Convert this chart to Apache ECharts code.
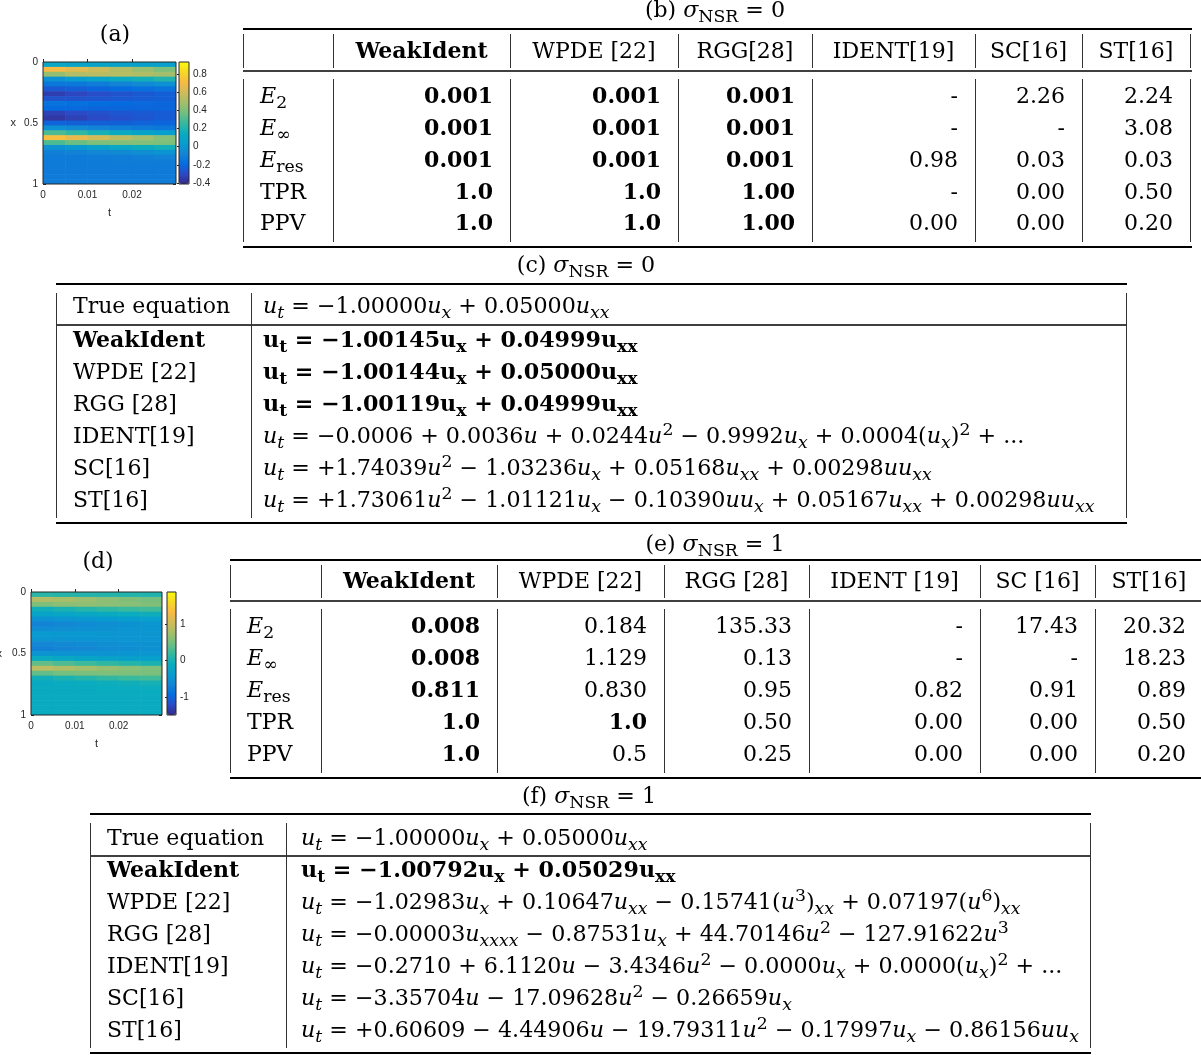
<!DOCTYPE html>
<html><head><meta charset="utf-8">
<script src="https://cdn.jsdelivr.net/npm/echarts@6/dist/echarts.min.js"></script>
<style>html,body{margin:0;padding:0;background:#fff}#c{width:1201px;height:1055px}</style>
</head><body><div id="c"></div>
<script>
// ================= DATA =================
// heatmap columns (t) and rows (x)
const tCols = ['0.0025','0.0075','0.0125','0.0175','0.0225','0.0275'];
const xRows = ['0.02','0.06','0.10','0.14','0.18','0.22','0.26','0.30','0.34','0.38','0.42','0.46','0.50',
               '0.54','0.58','0.62','0.66','0.70','0.74','0.78','0.82','0.86','0.90','0.94','0.98'];
const tTicks = [0, 0.01, 0.02];
// (a) noise-free field u(x,t), one row per x value
const fieldA = [
  [0.10, 0.09, 0.08, 0.07, 0.06, 0.05],
  [0.70, 0.64, 0.58, 0.52, 0.46, 0.40],
  [0.45, 0.52, 0.54, 0.53, 0.51, 0.48],
  [-0.02, 0.03, 0.08, 0.13, 0.17, 0.21],
  [-0.14, -0.13, -0.11, -0.08, -0.05, -0.02],
  [-0.25, -0.23, -0.21, -0.19, -0.17, -0.15],
  [-0.34, -0.31, -0.29, -0.27, -0.25, -0.23],
  [-0.27, -0.27, -0.26, -0.25, -0.24, -0.23],
  [-0.16, -0.17, -0.18, -0.19, -0.20, -0.21],
  [-0.19, -0.20, -0.21, -0.21, -0.21, -0.21],
  [-0.33, -0.30, -0.28, -0.26, -0.25, -0.24],
  [-0.36, -0.33, -0.30, -0.28, -0.26, -0.24],
  [-0.22, -0.23, -0.23, -0.23, -0.22, -0.21],
  [-0.02, -0.05, -0.08, -0.10, -0.12, -0.13],
  [0.30, 0.24, 0.18, 0.13, 0.09, 0.05],
  [0.72, 0.66, 0.60, 0.54, 0.48, 0.42],
  [0.30, 0.36, 0.40, 0.41, 0.41, 0.40],
  [-0.02, 0.02, 0.06, 0.10, 0.14, 0.17],
  [-0.10, -0.09, -0.07, -0.05, -0.03, -0.01],
  [-0.12, -0.12, -0.11, -0.11, -0.10, -0.09],
  [-0.12, -0.12, -0.12, -0.11, -0.11, -0.11],
  [-0.12, -0.12, -0.12, -0.12, -0.12, -0.12],
  [-0.12, -0.12, -0.12, -0.12, -0.12, -0.12],
  [-0.12, -0.12, -0.12, -0.12, -0.12, -0.12],
  [-0.11, -0.11, -0.11, -0.11, -0.11, -0.11]
];
// (d) noisy field (sigma_NSR = 1), smoothed reading
const fieldD = [
  [0.10, 0.08, 0.07, 0.06, 0.05, 0.04],
  [0.85, 0.78, 0.70, 0.62, 0.56, 0.50],
  [0.55, 0.62, 0.64, 0.62, 0.60, 0.56],
  [-0.05, 0.02, 0.08, 0.14, 0.20, 0.24],
  [-0.25, -0.22, -0.18, -0.14, -0.10, -0.06],
  [-0.50, -0.46, -0.42, -0.38, -0.35, -0.32],
  [-0.68, -0.63, -0.58, -0.54, -0.50, -0.46],
  [-0.56, -0.55, -0.53, -0.51, -0.49, -0.47],
  [-0.40, -0.42, -0.43, -0.44, -0.45, -0.45],
  [-0.45, -0.46, -0.47, -0.47, -0.47, -0.46],
  [-0.64, -0.61, -0.58, -0.55, -0.52, -0.50],
  [-0.70, -0.66, -0.62, -0.58, -0.55, -0.52],
  [-0.48, -0.49, -0.49, -0.48, -0.47, -0.45],
  [-0.12, -0.18, -0.24, -0.28, -0.31, -0.33],
  [0.40, 0.30, 0.22, 0.14, 0.08, 0.02],
  [0.90, 0.82, 0.74, 0.67, 0.60, 0.54],
  [0.40, 0.48, 0.52, 0.54, 0.54, 0.52],
  [-0.05, 0.02, 0.08, 0.14, 0.20, 0.24],
  [-0.15, -0.13, -0.10, -0.07, -0.04, -0.01],
  [-0.12, -0.12, -0.11, -0.10, -0.09, -0.08],
  [-0.12, -0.12, -0.12, -0.11, -0.11, -0.10],
  [-0.12, -0.12, -0.12, -0.12, -0.12, -0.12],
  [-0.12, -0.12, -0.12, -0.12, -0.12, -0.12],
  [-0.12, -0.12, -0.12, -0.12, -0.12, -0.12],
  [-0.10, -0.10, -0.10, -0.10, -0.10, -0.10]
];
const rangeA = [-0.41, 0.93];
const rangeD = [-1.5, 1.88];
const cbTicksA = [-0.4, -0.2, 0, 0.2, 0.4, 0.6, 0.8];
const cbTicksD = [-1, 0, 1];

// tables (b) and (e)
const metricNames = ['$E_2$', '$E_∞$', '$E_[res]$', 'TPR', 'PPV'];
const methodsB = ['WeakIdent', 'WPDE [22]', 'RGG[28]', 'IDENT[19]', 'SC[16]', 'ST[16]'];
const valuesB = [
  ['0.001', '0.001', '0.001', '-', '2.26', '2.24'],
  ['0.001', '0.001', '0.001', '-', '-', '3.08'],
  ['0.001', '0.001', '0.001', '0.98', '0.03', '0.03'],
  ['1.0', '1.0', '1.00', '-', '0.00', '0.50'],
  ['1.0', '1.0', '1.00', '0.00', '0.00', '0.20']
];
const boldB = [
  [1, 1, 1, 0, 0, 0], [1, 1, 1, 0, 0, 0], [1, 1, 1, 0, 0, 0], [1, 1, 1, 0, 0, 0], [1, 1, 1, 0, 0, 0]
];
const methodsE = ['WeakIdent', 'WPDE [22]', 'RGG [28]', 'IDENT [19]', 'SC [16]', 'ST[16]'];
const valuesE = [
  ['0.008', '0.184', '135.33', '-', '17.43', '20.32'],
  ['0.008', '1.129', '0.13', '-', '-', '18.23'],
  ['0.811', '0.830', '0.95', '0.82', '0.91', '0.89'],
  ['1.0', '1.0', '0.50', '0.00', '0.00', '0.50'],
  ['1.0', '0.5', '0.25', '0.00', '0.00', '0.20']
];
const boldE = [
  [1, 0, 0, 0, 0, 0], [1, 0, 0, 0, 0, 0], [1, 0, 0, 0, 0, 0], [1, 1, 0, 0, 0, 0], [1, 0, 0, 0, 0, 0]
];
// tables (c) and (f)
const eqLabels = ['True equation', 'WeakIdent', 'WPDE [22]', 'RGG [28]', 'IDENT[19]', 'SC[16]', 'ST[16]'];
const eqLabelBold = [0, 1, 0, 0, 0, 0, 0];
const eqC = [
  '$u_t = −1.00000u_x + 0.05000u_{xx}$',
  '$u_t = −1.00145u_x + 0.04999u_{xx}$',
  '$u_t = −1.00144u_x + 0.05000u_{xx}$',
  '$u_t = −1.00119u_x + 0.04999u_{xx}$',
  '$u_t = −0.0006 + 0.0036u + 0.0244u^2 − 0.9992u_x + 0.0004(u_x)^2 + ...$',
  '$u_t = +1.74039u^2 − 1.03236u_x + 0.05168u_{xx} + 0.00298uu_{xx}$',
  '$u_t = +1.73061u^2 − 1.01121u_x − 0.10390uu_x + 0.05167u_{xx} + 0.00298uu_{xx}$'
];
const eqCBold = [0, 1, 1, 1, 0, 0, 0];
const eqF = [
  '$u_t = −1.00000u_x + 0.05000u_{xx}$',
  '$u_t = −1.00792u_x + 0.05029u_{xx}$',
  '$u_t = −1.02983u_x + 0.10647u_{xx} − 0.15741(u^3)_{xx} + 0.07197(u^6)_{xx}$',
  '$u_t = −0.00003u_{xxxx} − 0.87531u_x + 44.70146u^2 − 127.91622u^3$',
  '$u_t = −0.2710 + 6.1120u − 3.4346u^2 − 0.0000u_x + 0.0000(u_x)^2 + ...$',
  '$u_t = −3.35704u − 17.09628u^2 − 0.26659u_x$',
  '$u_t = +0.60609 − 4.44906u − 19.79311u^2 − 0.17997u_x − 0.86156uu_x$'
];
const eqFBold = [0, 1, 0, 0, 0, 0, 0];
const titles = ['(a)', '(b) $σ_[NSR] = 0$', '(c) $σ_[NSR] = 0$', '(d)', '(e) $σ_[NSR] = 1$', '(f) $σ_[NSR] = 1$'];

// ================= RENDER =================
const PARULA = ['#352a87', '#2b4ac7', '#046de0', '#1485d4', '#079dcf', '#0aacbe', '#37b99e',
                '#71bf80', '#a5be6b', '#d1bb59', '#f8ba44', '#f7d826', '#f9fb0e'];
const FONT = 'DejaVu Serif';
const FS = 22, MFS = 22.2, SFS = 17.3;
const RICH = {};
(function () {
  const mk = (size, extra, pad) => Object.assign({ fontFamily: FONT, fontSize: size }, extra, pad ? { padding: pad } : {});
  const kinds = { R: {}, I: { fontStyle: 'italic' }, B: { fontWeight: 'bold' } };
  Object.keys(kinds).forEach(k => {
    RICH['T' + k] = mk(FS, kinds[k]);
    RICH['M' + k] = mk(MFS, kinds[k]);
    RICH['M' + k + 'b'] = mk(SFS, kinds[k], [13, 0, 0, 0]);
    RICH['M' + k + 'p'] = mk(SFS, kinds[k], [0, 0, 13, 0]);
  });
})();
function tex(src, bold) {
  let out = '', runStyle = null, runText = '', inMath = false;
  const flush = () => { if (runText) out += '{' + runStyle + '|' + runText + '}'; runText = ''; };
  const add = (ch, st) => { if (st !== runStyle) { flush(); runStyle = st; } runText += ch; };
  const isL = ch => /[A-Za-z\u03b1-\u03c9]/.test(ch);
  for (let i = 0; i < src.length; i++) {
    const c = src[i];
    if (c === '$') { inMath = !inMath; continue; }
    if (inMath && (c === '_' || c === '^')) {
      const n = src[i + 1];
      let grp, roman = false;
      if (n === '{' || n === '[') {
        const close = n === '{' ? '}' : ']';
        const j = src.indexOf(close, i + 2);
        grp = src.slice(i + 2, j); roman = n === '['; i = j;
      } else { grp = n; i += 1; }
      const suf = c === '_' ? 'b' : 'p';
      for (const ch of grp) add(ch, 'M' + (bold ? 'B' : (roman || !isL(ch) ? 'R' : 'I')) + suf);
      continue;
    }
    if (inMath) add(c, 'M' + (bold ? 'B' : (isL(c) ? 'I' : 'R')));
    else add(c, 'T' + (bold ? 'B' : 'R'));
  }
  flush();
  return out;
}
function txt(x, y, src, align, bold) {
  return { type: 'text', x: x, y: y, silent: true, z: 100,
    style: { text: tex(src, !!bold), rich: RICH, align: align || 'left', verticalAlign: 'middle',
             fontFamily: FONT, fontSize: FS, fill: '#000' } };
}
function line(x1, y1, x2, y2, w, col) {
  return { type: 'line', silent: true, z: 100, shape: { x1, y1, x2, y2 },
    style: { stroke: col || '#000', lineWidth: w } };
}

const G = [];
// titles / panel labels
G.push(txt(115, 35, titles[0], 'center'));
G.push(txt(98, 562, titles[3], 'center'));
G.push(txt(715, 11, titles[1], 'center'));
G.push(txt(586, 266, titles[2], 'center'));
G.push(txt(715, 545, titles[4], 'center'));
G.push(txt(589, 797, titles[5], 'center'));

function metricTable(L, methods, vals, bolds) {
  const xs = L.xs;
  G.push(line(xs[0], L.top, L.ruleEnd, L.top, 2));
  G.push(line(xs[0], L.hRule, L.ruleEnd, L.hRule, 1.4));
  G.push(line(xs[0], L.bottom, L.ruleEnd, L.bottom, 2));
  xs.forEach(x => {
    G.push(line(x + 0.5, L.top + 5, x + 0.5, L.hRule - 3, 1, '#333'));
    G.push(line(x + 0.5, L.hRule + 8, x + 0.5, L.bottom - 5, 1, '#333'));
  });
  methods.forEach((m, j) => G.push(txt((xs[j + 1] + xs[j + 2]) / 2, L.hdrY, m, 'center', j === 0)));
  metricNames.forEach((r, i) => {
    G.push(txt(L.labelX, L.rows[i], r, 'left'));
    vals[i].forEach((v, j) => G.push(txt(xs[j + 2] - L.pad, L.rows[i], v, 'right', bolds[i][j])));
  });
}
metricTable({ top: 29, hRule: 71, bottom: 247, hdrY: 52, rows: [97, 129, 161, 193, 224],
  xs: [243, 333, 510, 678, 812, 975, 1082, 1190], ruleEnd: 1192, labelX: 260, pad: 17 }, methodsB, valuesB, boldB);
metricTable({ top: 560, hRule: 601, bottom: 778, hdrY: 582, rows: [627, 659, 691, 723, 755],
  xs: [230, 321, 497, 664, 809, 980, 1095, 1203], ruleEnd: 1201, labelX: 247, pad: 17 }, methodsE, valuesE, boldE);

function eqTable(L, eqs, eqBold) {
  const xs = L.xs;
  G.push(line(xs[0], L.top, xs[2] + 1, L.top, 2));
  G.push(line(xs[0], L.hRule, xs[2] + 1, L.hRule, 1.3));
  G.push(line(xs[0], L.bottom, xs[2] + 1, L.bottom, 2));
  xs.forEach(x => G.push(line(x + 0.5, L.top + 9, x + 0.5, L.bottom - 5, 1, '#333')));
  eqLabels.forEach((lab, i) => {
    G.push(txt(L.labelX, L.rows[i], lab, 'left', eqLabelBold[i]));
    G.push(txt(L.eqX, L.rows[i], eqs[i], 'left', eqBold[i]));
  });
}
eqTable({ top: 284, hRule: 325, bottom: 523, rows: [307, 341, 373, 405, 437, 469, 501],
  xs: [56, 251, 1126], labelX: 73, eqX: 263 }, eqC, eqCBold);
eqTable({ top: 814, hRule: 856, bottom: 1053, rows: [839, 871, 903, 935, 967, 999, 1031],
  xs: [90, 286, 1090], labelX: 107, eqX: 301 }, eqF, eqFBold);

// ---------- heatmap panels ----------
const AX = '#262626';
const lab = { fontFamily: 'Liberation Sans', fontSize: 10, color: AX };
function cells(field) {
  const d = [];
  field.forEach((row, r) => row.forEach((v, c) => d.push([c, r, v])));
  return d;
}
function renderCell(params, api) {
  const c = api.coord([api.value(0), api.value(1)]);
  const s = api.size([1, 1]);
  return { type: 'rect',
    shape: { x: c[0] - s[0] / 2, y: c[1] - s[1] / 2, width: s[0] + 0.6, height: s[1] + 0.6 },
    style: { fill: api.visual('color') } };
}
const grids = [], xAxes = [], yAxes = [], series = [], vms = [];
function panel(P, field, range, cbTicks) {
  const gi = grids.length;
  grids.push({ left: P.left, top: P.top, width: P.w, height: P.h, show: true, z: 10,
    borderColor: AX, borderWidth: 1, backgroundColor: 'transparent', containLabel: false, outerBoundsMode: 'none' });
  grids.push({ left: P.cbLeft, top: P.top, width: P.cbW, height: P.h, show: true, z: 10,
    borderColor: AX, borderWidth: 1, backgroundColor: 'transparent', containLabel: false, outerBoundsMode: 'none' });
  const xi = xAxes.length, yi = yAxes.length;
  const tick = { show: true, inside: true, length: 3, lineStyle: { color: AX, width: 1 } };
  const tTick = Object.assign({}, tick, { customValues: tTicks });
  xAxes.push({ type: 'category', gridIndex: gi, data: tCols, show: false });
  xAxes.push({ type: 'value', gridIndex: gi, min: 0, max: 0.0299, position: 'bottom',
    axisLine: { show: false }, axisTick: tTick, splitLine: { show: false },
    axisLabel: Object.assign({ margin: 6, customValues: tTicks, formatter: v => String(v) }, lab),
    name: 't', nameLocation: 'middle', nameGap: 23, nameTextStyle: { fontFamily: 'Liberation Sans', fontSize: 11, color: AX } });
  xAxes.push({ type: 'value', gridIndex: gi, min: 0, max: 0.0299, position: 'top',
    axisLine: { show: false }, axisTick: tTick, splitLine: { show: false }, axisLabel: { show: false } });
  xAxes.push({ type: 'value', gridIndex: gi + 1, min: 0, max: 1, show: false });
  yAxes.push({ type: 'category', gridIndex: gi, data: xRows, inverse: true, show: false });
  yAxes.push({ type: 'value', gridIndex: gi, min: 0, max: 1, interval: 0.5, inverse: true, position: 'left',
    axisLine: { show: false }, axisTick: tick, splitLine: { show: false },
    axisLabel: Object.assign({ margin: 5, formatter: v => String(v) }, lab),
    name: 'x', nameLocation: 'middle', nameRotate: 0, nameGap: P.nameGapY,
    nameTextStyle: { fontFamily: 'Liberation Sans', fontSize: 11, color: AX } });
  yAxes.push({ type: 'value', gridIndex: gi, min: 0, max: 1, interval: 0.5, inverse: true, position: 'right',
    axisLine: { show: false }, axisTick: tick, splitLine: { show: false }, axisLabel: { show: false } });
  yAxes.push({ type: 'value', gridIndex: gi + 1, min: range[0], max: range[1], position: 'right',
    axisLine: { show: false }, splitLine: { show: false },
    axisTick: { show: true, inside: true, length: 2, customValues: cbTicks, lineStyle: { color: AX } },
    axisLabel: Object.assign({ margin: 4, customValues: cbTicks, formatter: v => String(v) }, lab) });
  const si = series.length;
  series.push({ type: 'custom', xAxisIndex: xi, yAxisIndex: yi, data: cells(field), silent: true,
    renderItem: renderCell, clip: true, dimensions: ['t', 'x', 'u'], encode: { x: 0, y: 1 } });
  vms.push({ type: 'continuous', seriesIndex: si, dimension: 2, min: range[0], max: range[1], calculable: false,
    orient: 'vertical', left: P.cbLeft, top: P.top, itemWidth: P.cbW, itemHeight: P.h, padding: 0,
    inRange: { color: PARULA }, hoverLink: false, z: 1 });
}
panel({ left: 43, top: 62, w: 133, h: 122, cbLeft: 179, cbW: 10, nameGapY: 27 }, fieldA, rangeA, cbTicksA);
panel({ left: 31, top: 592, w: 131, h: 123, cbLeft: 167, cbW: 9, nameGapY: 29 }, fieldD, rangeD, cbTicksD);

const chart = echarts.init(document.getElementById('c'), null, { renderer: 'canvas', width: 1201, height: 1055 });
chart.setOption({
  animation: false,
  backgroundColor: '#fff',
  grid: grids, xAxis: xAxes, yAxis: yAxes, series: series, visualMap: vms,
  graphic: { elements: G }
});
</script></body></html>
